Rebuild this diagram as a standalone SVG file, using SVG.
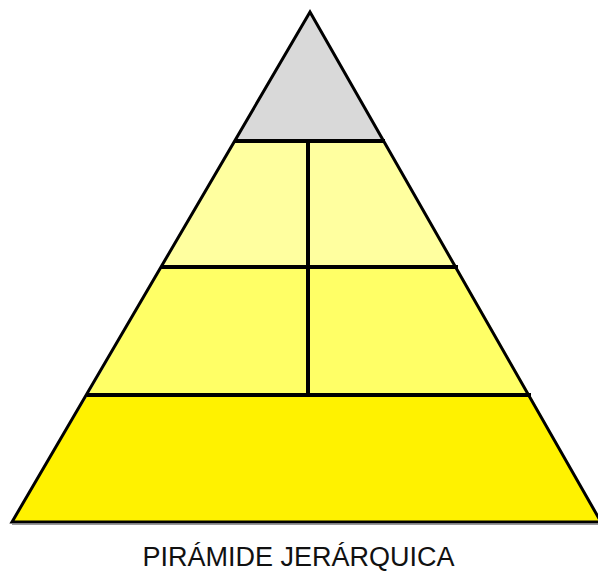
<svg xmlns="http://www.w3.org/2000/svg" width="598" height="572" viewBox="0 0 598 572">
<style>
.tier{stroke:none}
.ln{stroke:#000;stroke-width:4;fill:none;stroke-linejoin:miter}
.edge{stroke:#000;stroke-width:3;fill:none;stroke-linejoin:miter}
.cap{font-family:"Liberation Sans",Arial,sans-serif;font-size:27px;fill:#111}
</style>
<rect width="598" height="572" fill="#fff"/>
<g id="tier1"><polygon class="tier" fill="#d9d9d9" points="310,12 384,140 235,140"/></g>
<g id="tier2-left"><polygon class="tier" fill="#ffff9f" points="235,140 308,140 308,267 162,267"/></g>
<g id="tier2-right"><polygon class="tier" fill="#ffff9f" points="308,140 384,140 457,267 308,267"/></g>
<g id="tier3-left"><polygon class="tier" fill="#ffff66" points="162,267 308,267 308,395 88,395"/></g>
<g id="tier3-right"><polygon class="tier" fill="#ffff66" points="308,267 457,267 530,395 308,395"/></g>
<g id="tier4"><polygon class="tier" fill="#fff200" points="88,395 530,395 601,522 12,522"/></g>
<g id="connectors">
<polygon class="edge" points="310,12 601,522 12,522"/>
<line class="ln" x1="234" y1="141" x2="385" y2="141"/>
<line class="ln" x1="161" y1="267" x2="458" y2="267"/>
<line class="ln" x1="87" y1="395" x2="531" y2="395"/>
<line class="ln" x1="308" y1="141" x2="308" y2="395"/>
<line x1="12" y1="524.5" x2="598" y2="524.5" stroke="#999" stroke-width="1"/>
</g>
<text class="cap" x="298.5" y="566" text-anchor="middle">PIRÁMIDE JERÁRQUICA</text>
</svg>
